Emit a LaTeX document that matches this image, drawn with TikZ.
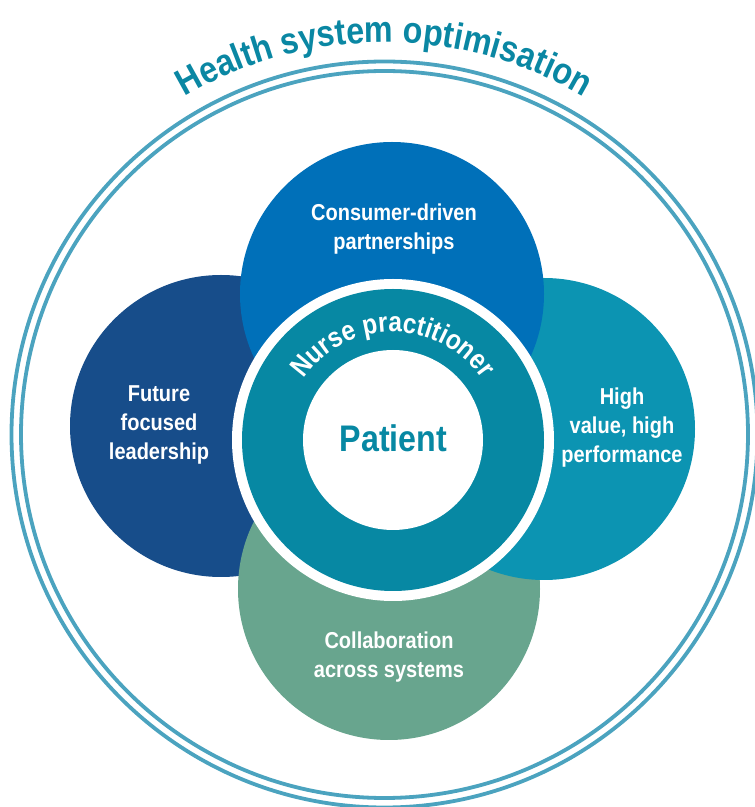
\documentclass[tikz,border=0pt]{standalone}
\usepackage{fontspec}
\setmainfont{Liberation Sans}[FakeStretch=0.87]
\usetikzlibrary{decorations.text,calc}

\definecolor{ringline}{HTML}{4BA3BF}
\definecolor{titleteal}{HTML}{0A87A3}
\definecolor{consumerblue}{HTML}{0070B9}
\definecolor{leaderblue}{HTML}{174D8A}
\definecolor{valueteal}{HTML}{0C94B2}
\definecolor{collabgreen}{HTML}{68A58E}
\definecolor{nurseteal}{HTML}{0788A3}

\newcommand\titlefont{\fontsize{37pt}{37pt}\selectfont\bfseries}
\newcommand\nursefont{\fontsize{28pt}{28pt}\selectfont\bfseries}

\begin{document}
\begin{tikzpicture}[x=1pt,y=1pt,
  petaltext/.style={text=white, align=center, anchor=base,
    font=\fontsize{23pt}{29pt}\selectfont\bfseries, inner sep=0pt},
  ringstroke/.style={draw=ringline, line width=3.8pt}]
\useasboundingbox (0,0) rectangle (755,807);

% centres
\coordinate (hub) at (384.5,372.5);
\coordinate (consumer) at (392,513);
\coordinate (leader) at (221,381);
\coordinate (value) at (544,378);
\coordinate (collab) at (389,218);
\coordinate (core) at (393,367);

% outer double ring
\draw[ringstroke] (hub) circle[radius=373pt];
\draw[ringstroke] (hub) circle[radius=363.5pt];

% four petals, back to front
\fill[leaderblue] (leader) circle[radius=151pt];
\fill[collabgreen] (collab) circle[radius=151pt];
\fill[valueteal] (value) circle[radius=151pt];
\fill[consumerblue] (consumer) circle[radius=152pt];

% central rings
\fill[white] (core) circle[radius=161pt];
\fill[nurseteal] (core) circle[radius=151pt];
\fill[white] (core) circle[radius=90pt];

% curved labels
\path[decorate, decoration={text along path, text align=center,
    text color=titleteal, text={|\titlefont|Health system optimisation}}]
  ($(hub)+(180:392pt)$) arc[start angle=180, end angle=0, radius=392pt];
\path[decorate, decoration={text along path, text align=center,
    text color=white, text={|\nursefont|Nurse practitioner}}]
  ($(core)+(180:108pt)$) arc[start angle=180, end angle=0, radius=108pt];

% petal labels (anchored on the baseline of the last line)
\node[petaltext] (consumerlabel) at (394,557) {Consumer-driven\\partnerships};
\node[petaltext] (leaderlabel) at (159,347) {Future\\focused\\leadership};
\node[petaltext] (valuelabel) at (622,344) {High\\value, high\\performance};
\node[petaltext] (collablabel) at (389,129) {Collaboration\\across systems};
\node[text=nurseteal, anchor=base, inner sep=0pt,
  font=\fontsize{37pt}{37pt}\selectfont\bfseries] (patient) at (393.5,355.3) {Patient};
\end{tikzpicture}
\end{document}
